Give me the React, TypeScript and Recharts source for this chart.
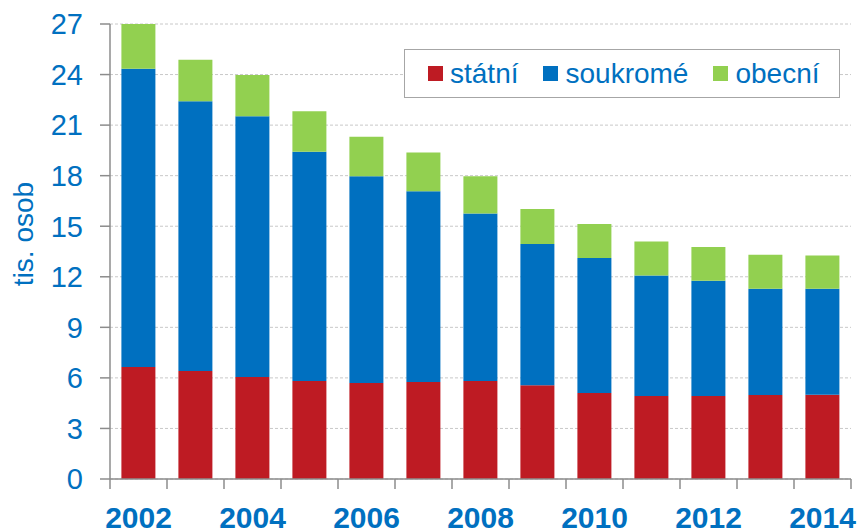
import { BarChart, Bar, XAxis, YAxis, CartesianGrid } from "recharts";

const years = ["2002", "2003", "2004", "2005", "2006", "2007", "2008", "2009", "2010", "2011", "2012", "2013", "2014"];
const statni = [6.65, 6.41, 6.05, 5.82, 5.7, 5.76, 5.82, 5.56, 5.1, 4.93, 4.93, 4.98, 5.0];
const soukrome = [17.7, 16.0, 15.47, 13.6, 12.26, 11.31, 9.94, 8.39, 8.02, 7.15, 6.84, 6.31, 6.29];
const obecni = [2.65, 2.47, 2.45, 2.4, 2.35, 2.3, 2.2, 2.07, 2.01, 2.02, 2.0, 2.02, 1.98];
const yTicks = [0, 3, 6, 9, 12, 15, 18, 21, 24, 27];

const SERIES = [
  { key: "statni", name: "státní", color: "#BE1B23" },
  { key: "soukrome", name: "soukromé", color: "#0070C0" },
  { key: "obecni", name: "obecní", color: "#92D050" },
];

const TEXT = "#0070C0";
const AXIS = "#8c8c8c";
const FONT = '"Liberation Sans", Arial, sans-serif';

const W = 861;
const H = 532;
const LEFT = 110;
const RIGHT = 10;
const BAND = (W - LEFT - RIGHT) / years.length;

const data = years.map((year, i) => ({
  year,
  statni: statni[i],
  soukrome: soukrome[i],
  obecni: obecni[i],
}));

function XTick(props: any) {
  const { x, y, payload, index } = props;
  const half = payload?.offset ? payload.offset : BAND / 2;
  const axisY = y - 10;
  return (
    <g>
      <line x1={x - half} x2={x - half} y1={axisY} y2={axisY + 10} stroke={AXIS} strokeWidth={1.5} />
      {index === years.length - 1 && (
        <line x1={x + half} x2={x + half} y1={axisY} y2={axisY + 10} stroke={AXIS} strokeWidth={1.5} />
      )}
      {index % 2 === 0 && (
        <text x={x} y={axisY + 49} textAnchor="middle" fill={TEXT} fontSize={30} fontWeight="bold" fontFamily={FONT}>
          {payload.value}
        </text>
      )}
    </g>
  );
}

function LegendBox() {
  return (
    <div
      style={{
        position: "absolute",
        left: 404,
        top: 49,
        boxSizing: "border-box",
        width: 436,
        height: 49,
        border: "1.5px solid #a6a6a6",
        background: "#fff",
        display: "flex",
        alignItems: "center",
        paddingLeft: 23,
        fontFamily: FONT,
        fontSize: 28,
        color: TEXT,
      }}
    >
      {SERIES.map((s, i) => (
        <div key={s.key} style={{ display: "flex", alignItems: "center", marginRight: i < SERIES.length - 1 ? 25 : 0 }}>
          <span style={{ display: "inline-block", width: 15, height: 15, background: s.color, marginRight: 7 }} />
          <span style={{ lineHeight: "30px" }}>{s.name}</span>
        </div>
      ))}
    </div>
  );
}

export default function App() {
  return (
    <div style={{ position: "absolute", left: 0, top: 0, width: W, height: H, background: "#fff" }}>
      <BarChart
        width={W}
        height={H}
        data={data}
        margin={{ top: 24, right: RIGHT, bottom: 0, left: 0 }}
        barCategoryGap="20%"
      >
        <CartesianGrid vertical={false} stroke="#c8c8c8" strokeDasharray="3 2" />
        <XAxis
          dataKey="year"
          interval={0}
          height={53}
          tickSize={10}
          tickMargin={0}
          tickLine={false}
          axisLine={{ stroke: AXIS, strokeWidth: 1.5 }}
          tick={(p: any) => <XTick {...p} />}
        />
        <YAxis
          width={LEFT}
          domain={[0, 27]}
          ticks={yTicks}
          interval={0}
          tickSize={10}
          tickMargin={17}
          axisLine={{ stroke: AXIS, strokeWidth: 1.5 }}
          tickLine={{ stroke: AXIS, strokeWidth: 1.5 }}
          tick={{ fill: TEXT, fontSize: 29, fontFamily: FONT }}
          label={{
            content: () => (
              <text
                x={33}
                y={234}
                transform="rotate(-90 33 234)"
                textAnchor="middle"
                fill={TEXT}
                fontSize={28}
                fontFamily={FONT}
              >
                tis. osob
              </text>
            ),
          }}
        />
        {SERIES.map((s) => (
          <Bar key={s.key} dataKey={s.key} name={s.name} stackId="a" fill={s.color} isAnimationActive={false} />
        ))}
      </BarChart>
      <LegendBox />
    </div>
  );
}
